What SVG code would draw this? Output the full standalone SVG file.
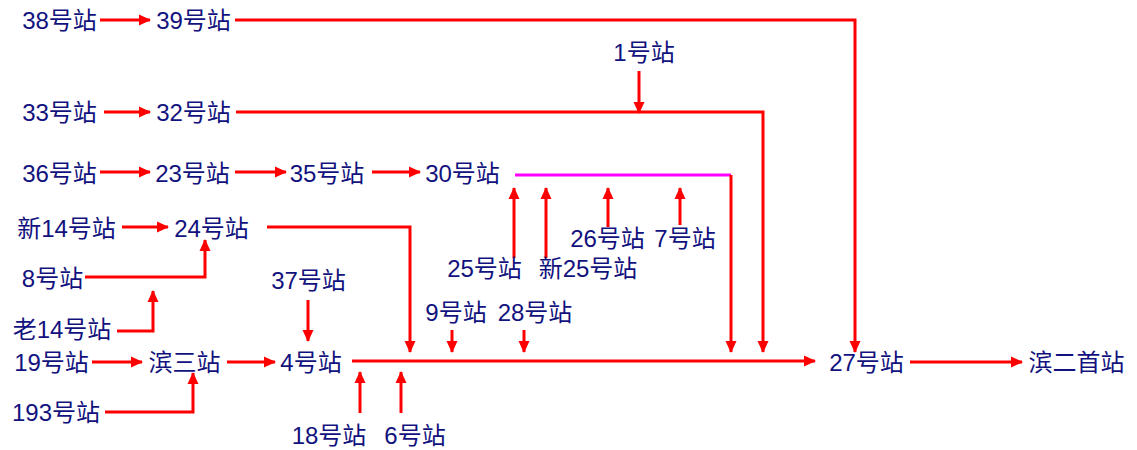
<svg xmlns="http://www.w3.org/2000/svg" width="1137" height="450" viewBox="0 0 1137 450">
<style>
text{font-family:"Liberation Sans","Noto Sans CJK SC",sans-serif;font-size:24px;fill:#12127e;text-anchor:middle}
.c{fill:none;stroke:#ff0000;stroke-width:3}
.a{marker-end:url(#ah)}
.m{fill:none;stroke:#ff00ff;stroke-width:3}
</style>
<defs>
<marker id="ah" markerUnits="userSpaceOnUse" markerWidth="12" markerHeight="12" refX="11" refY="5.5" orient="auto" viewBox="0 0 12 11">
<path d="M0,0 L12,5.5 L0,11 z" fill="#ff0000"/>
</marker>
</defs>
<rect width="1137" height="450" fill="#ffffff"/>
<g id="connectors">
<path class="c a" d="M100,20 H150"/>
<path class="c a" d="M235,20 H855 V352"/>
<path class="c a" d="M104,112 H150"/>
<path class="c a" d="M236,112 H763 V352"/>
<path class="c a" d="M639,71 V113"/>
<path class="c a" d="M100,172 H150"/>
<path class="c a" d="M235,172 H286"/>
<path class="c a" d="M372,172 H420"/>
<path class="m" d="M515,175 H731"/>
<path class="c a" d="M731,175 V352"/>
<path class="c a" d="M122,227 H168"/>
<path class="c a" d="M267,227 H410 V352"/>
<path class="c a" d="M85,277 H205 V240"/>
<path class="c a" d="M117,331 H153 V291"/>
<path class="c a" d="M308,300 V341"/>
<path class="c a" d="M452,330 V352"/>
<path class="c a" d="M524,330 V352"/>
<path class="c a" d="M514,258 V188"/>
<path class="c a" d="M546,258 V188"/>
<path class="c a" d="M608,227 V188"/>
<path class="c a" d="M680,225 V188"/>
<path class="c a" d="M92,362 H142"/>
<path class="c a" d="M227,362 H275"/>
<path class="c a" d="M352,361 H815"/>
<path class="c a" d="M910,362 H1022"/>
<path class="c a" d="M105,412 H193 V373"/>
<path class="c a" d="M360,413 V372"/>
<path class="c a" d="M401,413 V372"/>
</g>
<g id="n38"><text x="59.5" y="29">38号站</text></g>
<g id="n39"><text x="193.5" y="29">39号站</text></g>
<g id="n33"><text x="59.5" y="121">33号站</text></g>
<g id="n32"><text x="193.5" y="121">32号站</text></g>
<g id="n1"><text x="644" y="61">1号站</text></g>
<g id="n36"><text x="59.5" y="182">36号站</text></g>
<g id="n23"><text x="192.5" y="182">23号站</text></g>
<g id="n35"><text x="327" y="182">35号站</text></g>
<g id="n30"><text x="462.5" y="182">30号站</text></g>
<g id="nx14"><text x="66.5" y="237">新14号站</text></g>
<g id="n24"><text x="211.5" y="237">24号站</text></g>
<g id="n8"><text x="52.5" y="287">8号站</text></g>
<g id="nl14"><text x="62" y="338">老14号站</text></g>
<g id="n37"><text x="308.5" y="289">37号站</text></g>
<g id="n9"><text x="456" y="321">9号站</text></g>
<g id="n28"><text x="535" y="321">28号站</text></g>
<g id="n25"><text x="484.5" y="277">25号站</text></g>
<g id="nx25"><text x="588" y="277">新25号站</text></g>
<g id="n26"><text x="607.5" y="247">26号站</text></g>
<g id="n7"><text x="685" y="247">7号站</text></g>
<g id="n19"><text x="51.5" y="371">19号站</text></g>
<g id="nb3"><text x="184.5" y="371">滨三站</text></g>
<g id="n4"><text x="311" y="371">4号站</text></g>
<g id="n27"><text x="866.5" y="371">27号站</text></g>
<g id="nb2"><text x="1076.5" y="371">滨二首站</text></g>
<g id="n193"><text x="56" y="421">193号站</text></g>
<g id="n18"><text x="329" y="444">18号站</text></g>
<g id="n6"><text x="415" y="444">6号站</text></g>
</svg>
